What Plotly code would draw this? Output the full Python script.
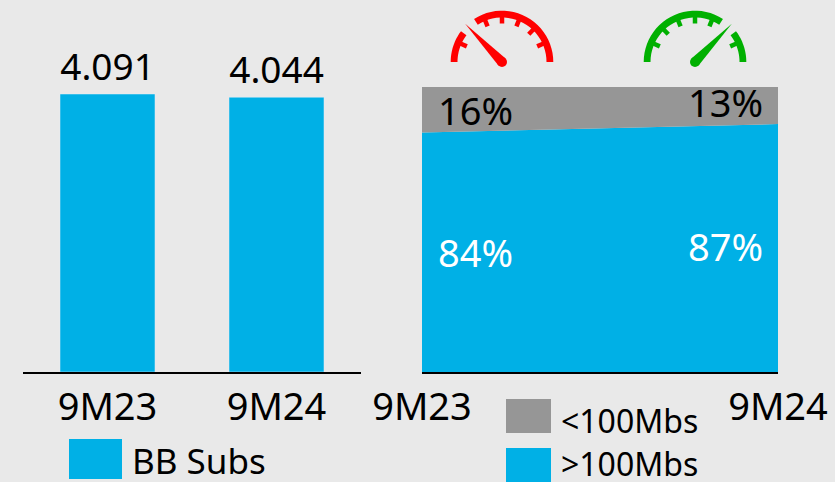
import math
import plotly.graph_objects as go

W, H = 835, 482
FONT = "Noto Sans"
BG = "#e9e9e9"
BLUE = "#00b0e6"
GREY = "#969696"

periods = ["9M23", "9M24"]
bb_subs = [4.091, 4.044]
below_100 = [16, 13]
above_100 = [84, 87]
bb_name = "BB Subs"
below_name = "<100Mbs"
above_name = ">100Mbs"


def px(x):
    return x / W


def py(y):
    return 1 - y / H


fig = go.Figure()
fig.add_trace(go.Bar(x=periods, y=bb_subs, marker_color=BLUE, name=bb_name,
                     text=[f"{v:.3f}" for v in bb_subs], textposition="outside",
                     textfont=dict(size=37, color="black"), cliponaxis=False,
                     showlegend=False, xaxis="x", yaxis="y"))
fig.add_trace(go.Scatter(x=periods, y=above_100, stackgroup="a", mode="none",
                         fillcolor=BLUE, name=above_name, showlegend=False,
                         xaxis="x2", yaxis="y2"))
fig.add_trace(go.Scatter(x=periods, y=below_100, stackgroup="a", mode="none",
                         fillcolor=GREY, name=below_name, showlegend=False,
                         xaxis="x2", yaxis="y2"))

annotations = []
# value labels on the area chart
label_offsets = [(53, 8), (-53, -8)]
for i, p in enumerate(periods):
    xs = label_offsets[i][0]
    annotations.append(dict(x=p, y=above_100[i], xref="x2", yref="y2", text=f"{above_100[i]}%",
                            showarrow=False, xshift=xs, yshift=[-119, -122][i],
                            font=dict(size=38, color="white", family=FONT)))
    annotations.append(dict(x=p, y=100, xref="x2", yref="y2", text=f"{below_100[i]}%",
                            showarrow=False, xshift=xs, yshift=[-23, -15][i],
                            font=dict(size=38, color="black", family=FONT)))

shapes = []


def rect(x0, y0, x1, y1, color):
    shapes.append(dict(type="rect", xref="paper", yref="paper", x0=px(x0), x1=px(x1),
                       y0=py(y0), y1=py(y1), fillcolor=color, line_width=0, layer="above"))


def label(x, y, text, size):
    annotations.append(dict(x=px(x), y=py(y), xref="paper", yref="paper", text=text,
                            showarrow=False, xanchor="left", yanchor="middle",
                            height=round(size * 1.15), borderpad=0,
                            font=dict(size=size, color="black", family=FONT)))


# legends
rect(69, 439, 122, 479, BLUE)
label(131, 460, bb_name, 35)
rect(506, 399, 551, 433, GREY)
label(560, 420, "&lt;100Mbs", 32)
rect(506, 448, 551, 482, BLUE)
label(560, 463, "&gt;100Mbs", 32)


def pt(cx, cy, r, deg):
    a = math.radians(deg)
    return px(cx + r * math.cos(a)), py(cy - r * math.sin(a))


def path_from(points):
    return "M" + " L".join(f"{x:.5f},{y:.5f}" for x, y in points) + " Z"


def gauge(cx, cy, color, gap, needle_deg, ticks):
    ro, ri = 51.3, 44.5
    for a0, a1 in [(0, gap[0]), (gap[1], 180)]:
        n = 24
        outer = [pt(cx, cy, ro, a0 + (a1 - a0) * i / n) for i in range(n + 1)]
        inner = [pt(cx, cy, ri, a1 - (a1 - a0) * i / n) for i in range(n + 1)]
        shapes.append(dict(type="path", xref="paper", yref="paper", path=path_from(outer + inner),
                           fillcolor=color, line_width=0))
    for t in ticks:
        p0 = pt(cx, cy, ri + 1, t)
        p1 = pt(cx, cy, 38.5, t)
        shapes.append(dict(type="line", xref="paper", yref="paper", x0=p0[0], y0=p0[1],
                           x1=p1[0], y1=p1[1], line=dict(color=color, width=4.5)))
    # needle
    tip = pt(cx, cy, 53, needle_deg)
    left = pt(cx, cy, 5, needle_deg + 90)
    right = pt(cx, cy, 5, needle_deg - 90)
    shapes.append(dict(type="path", xref="paper", yref="paper", path=path_from([tip, left, right]),
                       fillcolor=color, line_width=0))
    shapes.append(dict(type="circle", xref="paper", yref="paper",
                       x0=px(cx - 5), x1=px(cx + 5), y0=py(cy + 5), y1=py(cy - 5),
                       fillcolor=color, line_width=0))


gauge(502, 62, "#ff0000", (123, 143), 134, [24, 46, 68, 90, 112, 156])
gauge(695, 62, "#00b000", (37, 57), 46, [24, 68, 90, 112, 134, 156])

axis_common = dict(showgrid=False, zeroline=False, showline=True, linecolor="black", linewidth=2,
                   automargin=False,
                   ticks="", tickfont=dict(size=38, color="black", family=FONT), ticklabelstandoff=0)
fig.update_layout(
    width=W, height=H,
    autosize=False,
    margin=dict(l=0, r=0, t=0, b=0),
    paper_bgcolor=BG, plot_bgcolor=BG,
    font=dict(family=FONT, color="black"),
    bargap=0.438,
    showlegend=False,
    xaxis=dict(domain=[px(23), px(361)], type="category", categoryorder="array", categoryarray=periods,
               range=[-0.5, 1.5], anchor="y", **axis_common),
    yaxis=dict(domain=[py(372), 1], range=[0, 4.091 * 372 / 278], visible=False, anchor="x", automargin=False),
    xaxis2=dict(domain=[px(422), px(778)], type="category", categoryorder="array", categoryarray=periods,
                range=[0, 1], anchor="y2", **axis_common),
    yaxis2=dict(domain=[py(372), py(87)], range=[0, 100], visible=False, anchor="x2", automargin=False),
    annotations=annotations,
    shapes=shapes,
)
fig.write_html("out.html", config=dict(displayModeBar=False),
               post_script="document.body.style.margin='0';document.documentElement.style.overflow='hidden';document.documentElement.style.background='#e9e9e9';")
